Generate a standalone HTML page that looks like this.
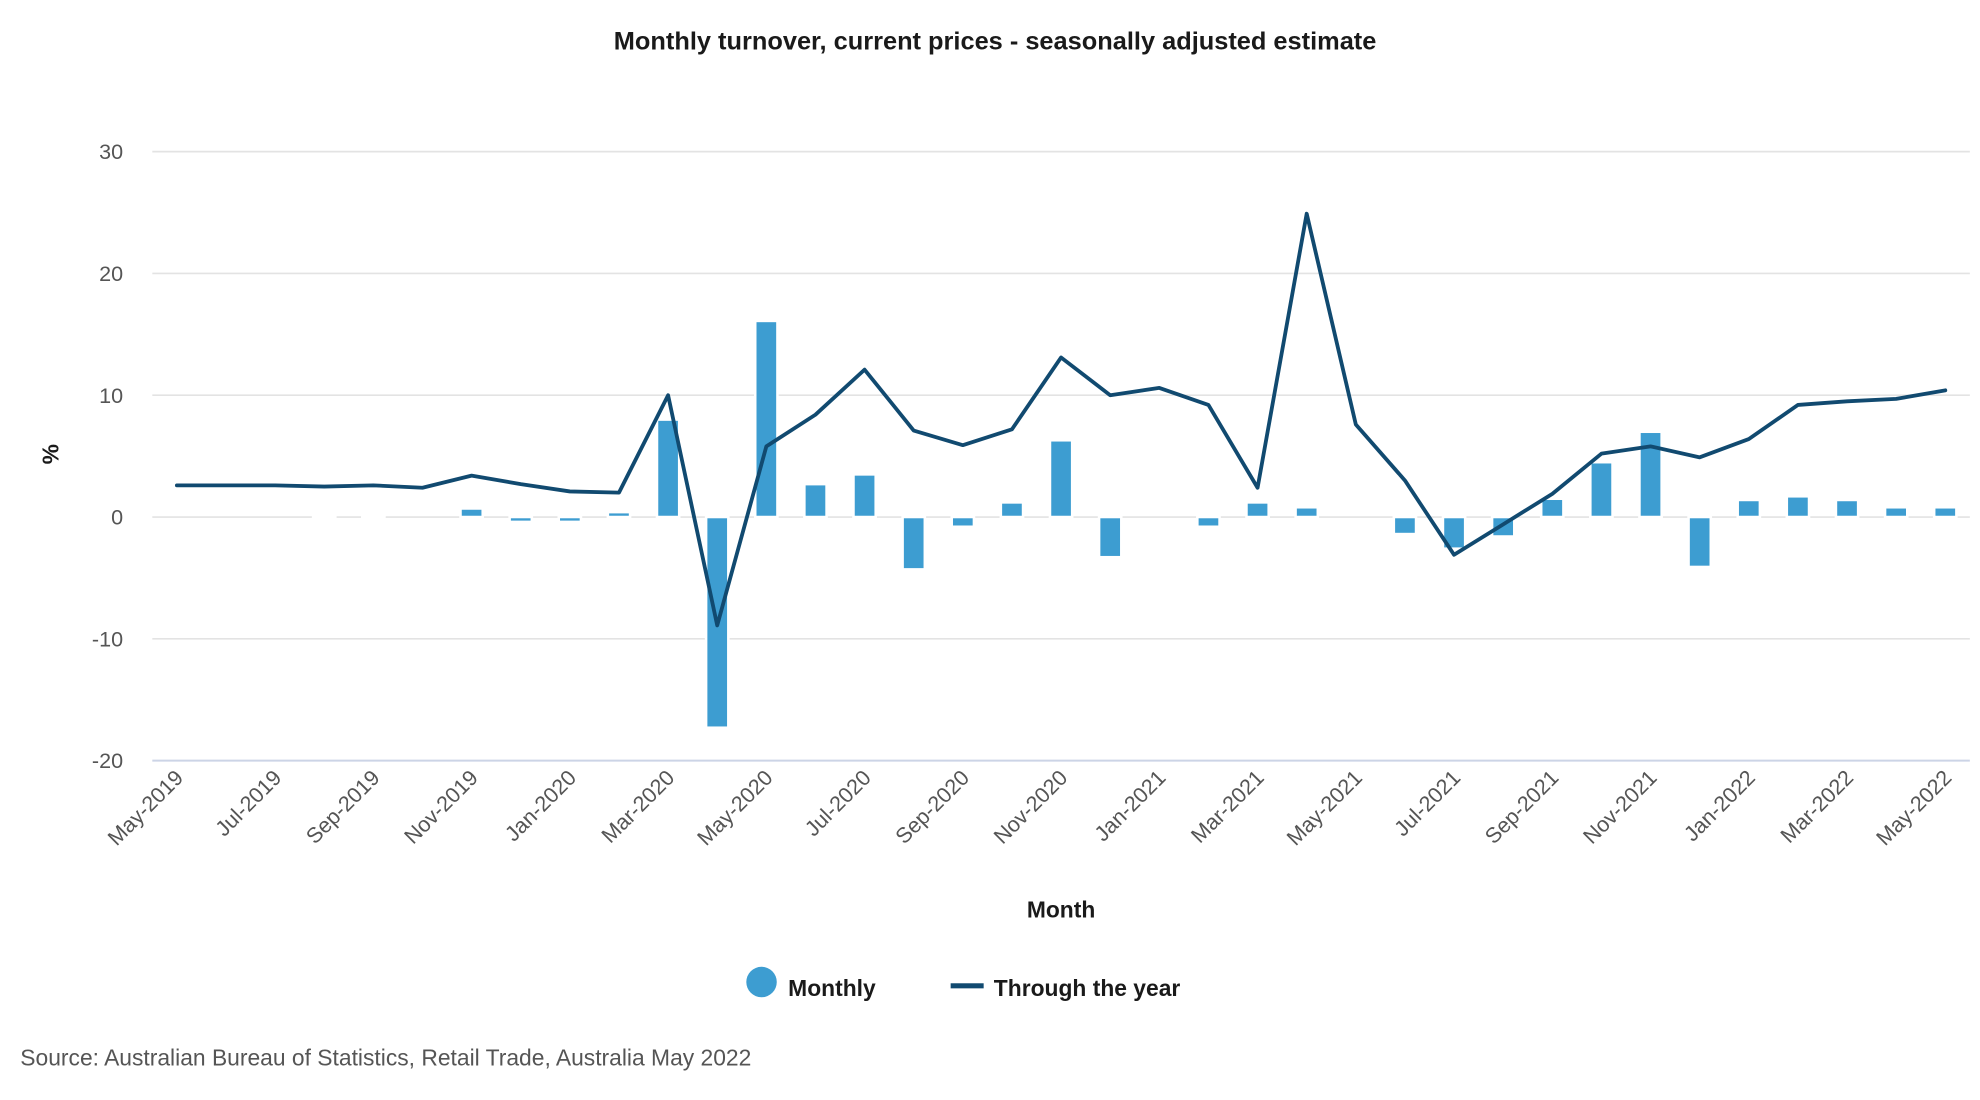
<!DOCTYPE html>
<html><head><meta charset="utf-8"><style>
html,body{margin:0;padding:0;background:#fff;}
svg{display:block;font-family:"Liberation Sans",sans-serif;}
</style></head><body>
<svg id="chart" width="1980" height="1100" viewBox="0 0 1560 867" preserveAspectRatio="none" xmlns="http://www.w3.org/2000/svg">
<text x="784" y="39" text-anchor="middle" font-size="20" font-weight="bold" fill="#1a1a1a">Monthly turnover, current prices - seasonally adjusted estimate</text>
<g id="grid"></g>
<g id="yticks"></g>
<g id="xticks"></g>
<g id="bars"></g>
<g id="line"></g>
<text transform="translate(46,358) rotate(-90)" text-anchor="middle" font-size="18" font-weight="bold" fill="#1a1a1a">%</text>
<text x="836" y="723" text-anchor="middle" font-size="18" font-weight="bold" fill="#1a1a1a">Month</text>
<g><circle cx="600" cy="774" r="12" fill="#3d9dd1"/><text x="621" y="785" font-size="18" font-weight="bold" fill="#1a1a1a">Monthly</text></g>
<g><rect x="749" y="775" width="26" height="4" fill="#114a70"/><text x="783" y="785" font-size="18" font-weight="bold" fill="#1a1a1a">Through the year</text></g>
<text x="16" y="840" font-size="18" fill="#555">Source: Australian Bureau of Statistics, Retail Trade, Australia May 2022</text>
</svg>
<script>
const categories=["May-2019","Jun-2019","Jul-2019","Aug-2019","Sep-2019","Oct-2019","Nov-2019","Dec-2019","Jan-2020","Feb-2020","Mar-2020","Apr-2020","May-2020","Jun-2020","Jul-2020","Aug-2020","Sep-2020","Oct-2020","Nov-2020","Dec-2020","Jan-2021","Feb-2021","Mar-2021","Apr-2021","May-2021","Jun-2021","Jul-2021","Aug-2021","Sep-2021","Oct-2021","Nov-2021","Dec-2021","Jan-2022","Feb-2022","Mar-2022","Apr-2022","May-2022"];
const monthly=[0,0,0,0.2,0.2,null,0.7,-0.4,-0.4,0.4,8.0,-17.3,16.1,2.7,3.5,-4.3,-0.8,1.2,6.3,-3.3,0,-0.8,1.2,0.8,0,-1.4,-2.6,-1.6,1.5,4.5,7.0,-4.1,1.4,1.7,1.4,0.8,0.8];
const throughYear=[2.6,2.6,2.6,2.5,2.6,2.4,3.4,2.7,2.1,2.0,10.0,-8.9,5.8,8.4,12.1,7.1,5.9,7.2,13.1,10.0,10.6,9.2,2.4,24.9,7.6,3.0,-3.1,-0.6,1.9,5.2,5.8,4.9,6.4,9.2,9.5,9.7,10.4];
const yTicks=[30,20,10,0,-10,-20];
const NS="http://www.w3.org/2000/svg";
const L=120,R=1552,Y0=407.5,PER=9.6;
const band=(R-L)/categories.length;
const x=i=>L+band*(i+0.5);
const y=v=>Y0-v*PER;
function mk(t,a,p){const e=document.createElementNS(NS,t);for(const k in a)e.setAttribute(k,a[k]);p.appendChild(e);return e;}
const grid=document.getElementById('grid'),yt=document.getElementById('yticks'),xt=document.getElementById('xticks'),bars=document.getElementById('bars'),line=document.getElementById('line');
yTicks.forEach(v=>{
 const g=mk('line',{x1:L,x2:R,y1:y(v),y2:y(v),stroke:v===-20?'#ccd4e6':'#e3e3e3','stroke-width':v===-20?1.5:1.3},grid);
 
 
 const t=mk('text',{x:97,y:y(v)+6,'text-anchor':'end','font-size':17,fill:'#555'},yt);
 t.textContent=v;
 
 
});
categories.forEach((c,i)=>{
 if(i%2)return;
 const t=mk('text',{transform:`translate(${x(i)+6},${614}) rotate(-45)`,'text-anchor':'end','font-size':17,fill:'#555'},xt);
 t.textContent=c;
 
 
});
const bw=17.5;
monthly.forEach((v,i)=>{
 if(v===null)return;
 const top=Math.min(y(v),Y0),h=Math.abs(y(v)-Y0);
 const r=mk('rect',{x:x(i)-bw/2,y:top,width:bw,height:h,fill:'#3d9dd1',stroke:'#fff','stroke-width':2},bars);
 
 
});
const p=mk('polyline',{points:throughYear.map((v,i)=>x(i)+','+y(v)).join(' '),fill:'none',stroke:'#114a70','stroke-width':3,'stroke-linejoin':'round','stroke-linecap':'round'},line);


</script>
</body></html>
